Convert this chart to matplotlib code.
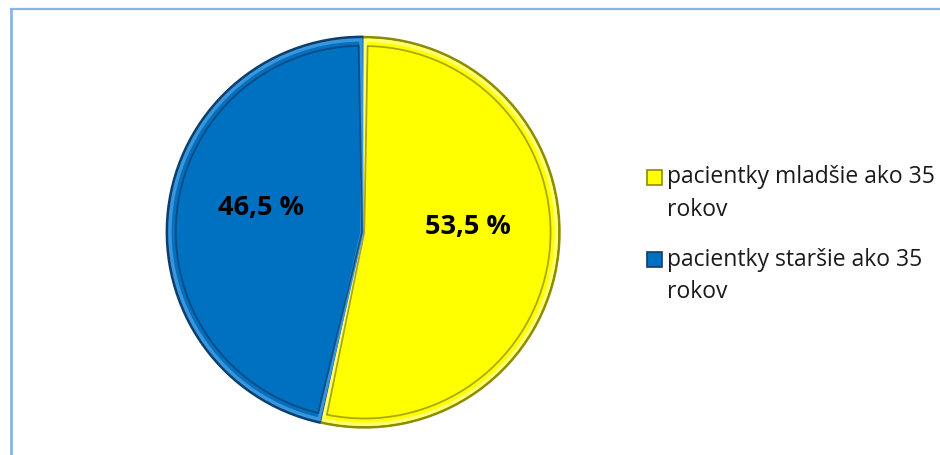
import matplotlib
matplotlib.use("Agg")
import matplotlib.pyplot as plt
from matplotlib.patches import Wedge, Rectangle
from matplotlib.lines import Line2D

categories = ["pacientky mladšie ako 35\nrokov", "pacientky staršie ako 35\nrokov"]
values = [53.5, 46.5]
colors = ["#FFFF00", "#0070C0"]
edge_dark = ["#8C8C00", "#0B3F6E"]
edge_light = ["#FFFF70", "#3A95DA"]

W, H = 940, 456
fig = plt.figure(figsize=(W / 100, H / 100), dpi=100)
fig.patch.set_facecolor("white")

cx, cy, R = 362, 233, 195
lim = 1.1
aw = 2 * lim * R
ax = fig.add_axes([(cx - aw / 2) / W, (H - cy - aw / 2) / H, aw / W, aw / H])

def fmt(p):
    return f"{p:.1f} %".replace(".", ",")

wedges, texts, autotexts = ax.pie(
    values, colors=colors, startangle=90, counterclock=False,
    explode=[0.012, 0], autopct=fmt, pctdistance=0.55,
    wedgeprops=dict(linewidth=0),
    textprops=dict(fontsize=19.5, fontweight="bold", color="black", family="Open Sans"),
)
ax.set_xlim(-lim, lim)
ax.set_ylim(-lim, lim)
ax.axis("off")

for w, dk, lt in zip(wedges, edge_dark, edge_light):
    w.set_edgecolor(dk)
    w.set_linewidth(2.0)
    c = w.center
    t1, t2 = w.theta1, w.theta2
    ax.add_patch(Wedge(c, 0.985, t1 + 0.3, t2 - 0.3, fill=False, edgecolor=lt, linewidth=2.5))
    ax.add_patch(Wedge(c, 0.955, t1 + 1.0, t2 - 1.0, fill=False, edgecolor=dk, linewidth=1.3, alpha=0.75))

# label positions nudged to match reference
nudges = [(-0.017, 0.09), (0.029, 0.068)]
for t, (dx, dy) in zip(autotexts, nudges):
    x, y = t.get_position()
    t.set_position((x + dx, y + dy))

# legend (manual, markers aligned with first line)
lx_marker = 654
lx_text = 667
ly = [178, 260]
line_gap = 32
for cat, col, dk, y in zip(categories, colors, edge_dark, ly):
    s = 15
    fig.add_artist(Rectangle(((lx_marker - s / 2) / W, (H - y - s / 2) / H), s / W, s / H,
                             transform=fig.transFigure, facecolor=col, edgecolor=dk, linewidth=1.2))
    fig.text(lx_text / W, (H - y - line_gap / 2) / H, cat, ha="left", va="center", fontsize=16.5,
             family="Open Sans", color="#1a1a1a", linespacing=1.5)

# figure border (top and left visible)
bc = "#8DB3E2"
fig.add_artist(Line2D([10.5 / W, 1.0], [1 - 9.5 / H, 1 - 9.5 / H], transform=fig.transFigure, color=bc, linewidth=1.6))
fig.add_artist(Line2D([10.5 / W, 10.5 / W], [0, 1 - 9.5 / H], transform=fig.transFigure, color=bc, linewidth=2.0))

fig.savefig("out.png", dpi=100, facecolor="white")
